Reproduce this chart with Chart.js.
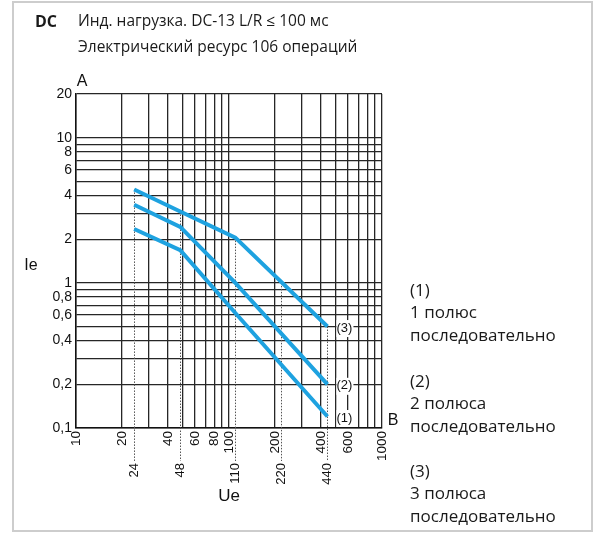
<!DOCTYPE html>
<html>
<head>
<meta charset="utf-8">
<script src="https://cdn.jsdelivr.net/npm/chart.js@4/dist/chart.umd.min.js"></script>
<style>
html,body{margin:0;padding:0;background:#fff;}
#wrap{width:602px;height:533px;position:relative;}
</style>
</head>
<body>
<div id="wrap"><canvas id="c" width="602" height="533"></canvas></div>
<script>
// ---- data ----
const voltages = [24, 48, 110, 440];
const series1 = [2.35, 1.68, 0.62, 0.12];   // (1) 1 полюс
const series2 = [3.45, 2.43, 1.0, 0.2];     // (2) 2 полюса
const series3 = [4.4, 3.1, 2.05, 0.5];      // (3) 3 полюса
const seriesNames = ['(1)', '(2)', '(3)'];

const xGrid = [10,20,30,40,50,60,70,80,90,100,200,300,400,500,600,700,800,900,1000];
const xLabels = [10,20,40,60,80,100,200,400,600,1000];
const ratedVoltages = [24, 48, 110, 220, 440];
const ratedTops = [4.4, 3.1, 2.05, 1.0, 0.5];

const yGrid = [0.1,0.2,0.3,0.4,0.5,0.6,0.7,0.8,0.9,1,2,3,4,5,6,7,8,9,10,20];
const yLabels = [0.1,0.2,0.4,0.6,0.8,1,2,4,6,8,10,20];

const titleBold = 'DC';
const titleLine1 = 'Инд. нагрузка. DC-13 L/R ≤ 100 мс';
const titleLine2 = 'Электрический ресурс 106 операций';
const legendLines = [
  ['(1)', '1 полюс', 'последовательно'],
  ['(2)', '2 полюса', 'последовательно'],
  ['(3)', '3 полюса', 'последовательно']
];

const blue = '#1ea2e0';
function pts(ys){ return voltages.map((v,i)=>({x:v, y:ys[i]})); }
function fmt(v){ return String(v).replace('.', ','); }

const overlay = {
  id: 'overlay',
  beforeDraw(chart){
    const ctx = chart.ctx;
    ctx.save();
    ctx.fillStyle = '#fff';
    ctx.fillRect(0,0,chart.width,chart.height);
    ctx.strokeStyle = '#cdcdcd';
    ctx.lineWidth = 2;
    ctx.strokeRect(13, 2, 579, 529);
    ctx.restore();
  },
  beforeDatasetsDraw(chart){
    const ctx = chart.ctx, xs = chart.scales.x, ys = chart.scales.y;
    ctx.save();
    ctx.strokeStyle = '#555';
    ctx.lineWidth = 1;
    ctx.setLineDash([1.5, 1.5]);
    ratedVoltages.forEach((v,i)=>{
      const px = Math.round(xs.getPixelForValue(v)) + 0.5;
      ctx.beginPath();
      ctx.moveTo(px, ys.getPixelForValue(ratedTops[i]));
      ctx.lineTo(px, 461);
      ctx.stroke();
    });
    ctx.restore();
  },
  afterDraw(chart){
    const ctx = chart.ctx, xs = chart.scales.x, ys = chart.scales.y;
    ctx.save();
    // second-row rotated voltage labels
    ctx.fillStyle = '#111';
    ctx.font = '13px "Liberation Sans", Arial, sans-serif';
    ratedVoltages.forEach(v=>{
      const px = xs.getPixelForValue(v);
      ctx.save();
      ctx.translate(px, 463);
      ctx.rotate(-Math.PI/2);
      ctx.textAlign = 'right';
      ctx.textBaseline = 'middle';
      ctx.fillText(String(v), 0, 0);
      ctx.restore();
    });
    // curve end labels with white boxes
    const ends = [series1, series2, series3];
    ctx.font = '13px "Liberation Sans", Arial, sans-serif';
    ctx.textAlign = 'center';
    ctx.textBaseline = 'middle';
    ends.forEach((s,i)=>{
      const ex = xs.getPixelForValue(voltages[voltages.length-1]) + 17;
      const ey = ys.getPixelForValue(s[s.length-1]) + 1.5;
      ctx.fillStyle = '#fff';
      ctx.fillRect(ex-8, ey-8, 17, 17);
      ctx.fillStyle = '#111';
      ctx.fillText(seriesNames[i], ex, ey);
    });
    // axis letters
    ctx.fillStyle = '#111';
    ctx.font = '16px "Liberation Sans", Arial, sans-serif';
    ctx.textAlign = 'center';
    ctx.fillText('A', 82, 82);
    ctx.fillText('B', 393, 421);
    ctx.font = '16px "Liberation Sans", Arial, sans-serif';
    ctx.fillText('Ie', 31, 266);
    ctx.font = '17px "Liberation Sans", Arial, sans-serif';
    ctx.fillText('Ue', 229, 496);
    // titles
    ctx.textAlign = 'left';
    ctx.fillStyle = '#1a1a1a';
    ctx.font = 'bold 16px "Open Sans", sans-serif';
    ctx.fillText(titleBold, 35, 22);
    ctx.font = '15.5px "Open Sans", sans-serif';
    ctx.fillText(titleLine1, 78, 22);
    ctx.fillText(titleLine2, 78, 48);
    // legend on the right
    ctx.font = '17px "Open Sans", sans-serif';
    const tops = [291, 382, 472];
    legendLines.forEach((lines,i)=>{
      lines.forEach((t,j)=>{ ctx.fillText(t, 410, tops[i] + j*22.5); });
    });
    ctx.restore();
  }
};

const gridColor = '#262626';
new Chart(document.getElementById('c'), {
  type: 'scatter',
  data: {
    datasets: [
      {label: seriesNames[0], data: pts(series1)},
      {label: seriesNames[1], data: pts(series2)},
      {label: seriesNames[2], data: pts(series3)}
    ].map(d=>Object.assign(d, {showLine:true, borderColor:blue, backgroundColor:blue, borderWidth:4, pointRadius:0, tension:0, borderCapStyle:'butt', borderJoinStyle:'miter'}))
  },
  options: {
    responsive: false,
    animation: false,
    devicePixelRatio: 1,
    layout: {padding: {left:0, top:94, right:220, bottom:0}},
    plugins: {legend:{display:false}, tooltip:{enabled:false}, title:{display:false}},
    scales: {
      x: {
        type: 'logarithmic', min: 10, max: 1000,
        afterBuildTicks: s => { s.ticks = xGrid.map(v=>({value:v})); },
        afterFit: s => { s.height = 105; },
        grid: {color: gridColor, lineWidth: 1.3, drawTicks: false},
        border: {color: '#111', width: 1.5},
        ticks: {
          autoSkip: false, minRotation: 90, maxRotation: 90, padding: 3,
          color: '#111', font: {family: '"Liberation Sans", Arial, sans-serif', size: 13.5},
          callback: (v) => xLabels.includes(v) ? String(v) : ''
        }
      },
      y: {
        type: 'logarithmic', min: 0.1, max: 20,
        afterBuildTicks: s => { s.ticks = yGrid.map(v=>({value:v})); },
        afterFit: s => { s.width = 76; },
        grid: {color: gridColor, lineWidth: 1.3, drawTicks: false},
        border: {color: '#111', width: 1.5},
        ticks: {
          autoSkip: false, padding: 4,
          color: '#111', font: {family: '"Liberation Sans", Arial, sans-serif', size: 14},
          callback: (v) => yLabels.some(l=>Math.abs(l-v)<1e-9) ? fmt(v) : ''
        }
      }
    }
  },
  plugins: [overlay]
});
</script>
</body>
</html>
